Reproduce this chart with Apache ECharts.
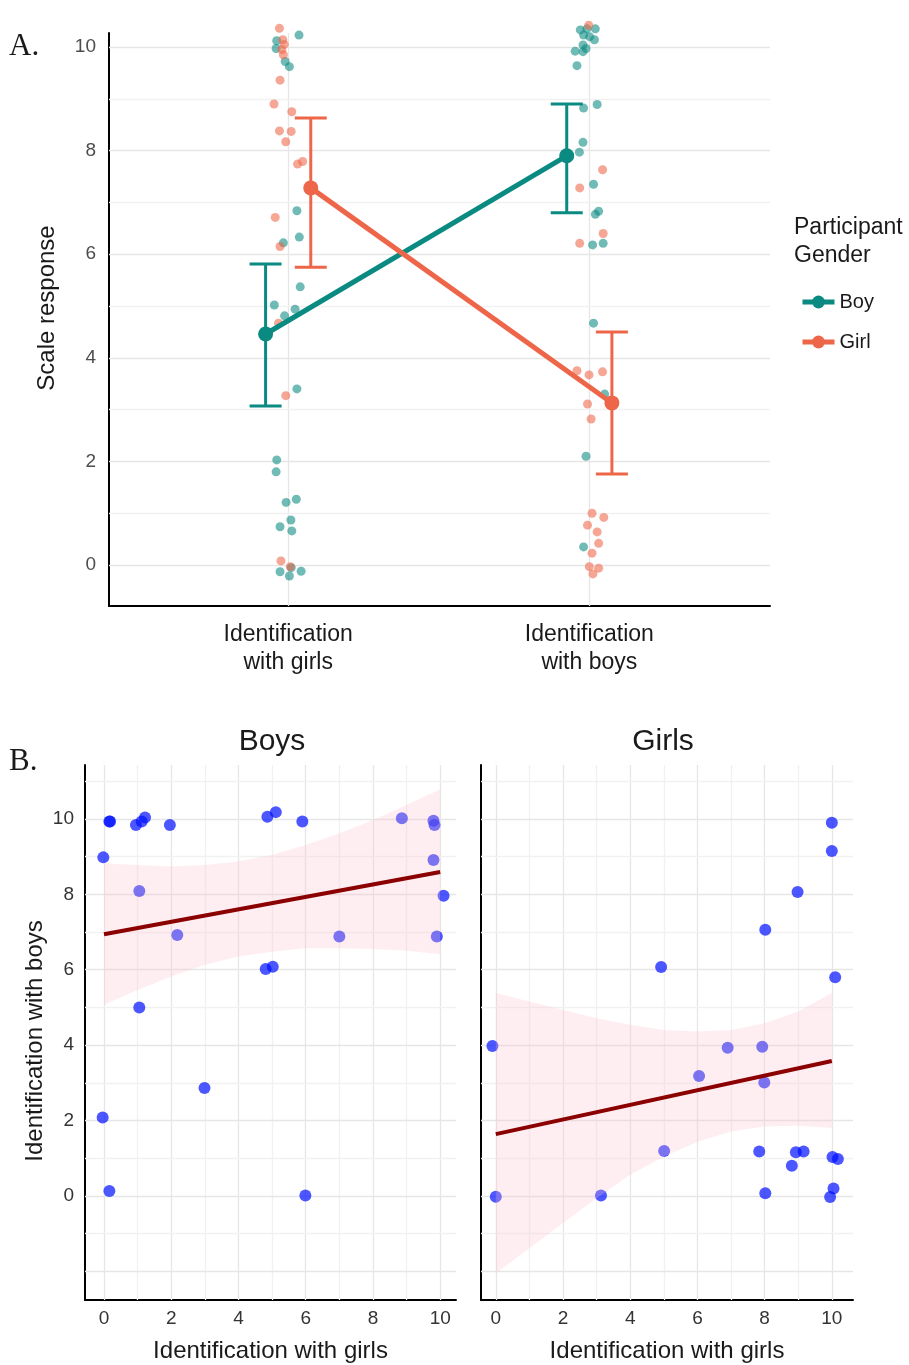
<!DOCTYPE html>
<html><head><meta charset="utf-8">
<script src="https://cdn.jsdelivr.net/npm/echarts@6/dist/echarts.min.js"></script>
<style>html,body{margin:0;padding:0;background:#fff}#c{width:909px;height:1365px}</style>
</head><body><div id="c"></div>
<script>
// ---------- Panel A data ----------
const categories = ['Identification\nwith girls', 'Identification\nwith boys'];
const yTicksA = [0, 2, 4, 6, 8, 10];
const genders = ['Boy', 'Girl'];
const boyMeans = [4.46, 7.90];
const boyLow = [3.07, 6.80];
const boyHigh = [5.81, 8.90];
const girlMeans = [7.28, 3.13];
const girlLow = [5.75, 1.76];
const girlHigh = [8.63, 4.50];
// jittered raw responses (x = category position incl. jitter, y = response)
const boyPtsX = [1.036,0.962,0.960,0.990,1.004,1.029,1.037,0.984,1.040,0.954,0.988,1.023,1.029,0.962,0.960,0.993,1.027,0.973,1.009,1.012,1.010,0.973,1.004,1.043,
  1.970,1.992,2.020,1.981,2.001,2.017,1.979,1.989,1.953,1.979,1.959,2.026,1.981,1.979,1.967,2.014,2.031,2.020,2.011,2.046,2.014,2.051,1.989,1.981];
const boyPtsY = [10.23,10.12,9.97,9.72,9.62,6.84,6.33,6.22,5.37,5.02,4.81,4.94,3.40,2.03,1.80,1.21,1.27,0.74,0.87,0.66,-0.05,-0.13,-0.21,-0.12,
  10.33,10.35,10.35,10.23,10.20,10.14,10.04,9.97,9.92,9.91,9.64,8.89,8.82,8.16,7.97,7.35,6.83,6.77,6.18,6.21,4.67,3.30,2.10,0.35];
const girlPtsX = [0.971,0.982,0.979,0.984,0.973,0.953,1.012,0.971,1.010,0.992,1.031,1.048,0.957,0.973,0.968,0.992,0.976,1.007,0.987,
  1.998,2.044,1.968,2.046,1.968,1.959,1.999,2.044,1.994,2.006,2.009,2.048,1.994,2.026,2.031,2.009,2.000,2.031,2.012];
const girlPtsY = [10.36,10.14,9.95,9.85,9.36,8.90,8.75,8.38,8.37,8.17,7.74,7.79,6.71,6.15,4.67,3.27,0.08,-0.03,10.05,
  10.42,7.63,7.28,6.40,6.21,3.75,3.67,3.73,3.11,2.82,1.00,0.92,0.77,0.64,0.42,0.23,-0.03,-0.06,-0.17];

// ---------- Panel B data ----------
const xTicksB = [0, 2, 4, 6, 8, 10];
const yTicksB = [0, 2, 4, 6, 8, 10];
const boysX = [0.18,0.16,0.95,1.12,1.22,1.96,4.86,5.11,5.90,8.86,9.80,9.83,-0.02,9.80,1.05,10.10,2.18,7.00,9.90,4.81,5.02,1.05,2.99,-0.04,0.16,5.99];
const boysY = [9.93,9.93,9.84,9.93,10.04,9.84,10.06,10.18,9.93,10.02,9.95,9.84,8.98,8.91,8.09,7.96,6.92,6.88,6.88,6.02,6.08,5.00,2.86,2.08,0.13,0.01];
const girlsX = [10.0,10.0,8.98,8.02,4.92,10.10,-0.10,6.90,7.93,6.05,7.99,5.01,7.84,8.93,9.16,8.81,10.02,10.18,10.05,9.95,8.02,0.0,3.13];
const girlsY = [9.90,9.15,8.06,7.06,6.07,5.80,3.98,3.93,3.96,3.18,3.01,1.19,1.18,1.16,1.18,0.80,1.03,0.98,0.20,-0.03,0.07,-0.02,0.01];
const ribbonX = [0,1,2,3,4,5,6,7,8,9,10];
const boysUpper = [8.82,8.78,8.74,8.78,8.87,9.05,9.31,9.62,9.97,10.37,10.79];
const boysLower = [5.07,5.46,5.82,6.13,6.35,6.48,6.57,6.57,6.55,6.50,6.41];
const girlsUpper = [5.38,5.16,4.93,4.71,4.54,4.40,4.36,4.40,4.58,4.89,5.38];
const girlsLower = [-2.05,-1.39,-0.72,-0.06,0.56,1.04,1.44,1.71,1.84,1.86,1.80];
const fitX = [0, 10];
const boysFit = [6.94, 8.59];
const girlsFit = [1.64, 3.58];

// ---------- styling ----------
const BOY = '#0B8A82', GIRL = '#EE6649';
const FONT = '"Liberation Sans", Arial, Helvetica, sans-serif';
const MAJOR = '#e6e6e6', MINOR = '#f1f1f1';

function gridSeries(xi, yi, xs, ys, isMajorX, isMajorY, anchor) {
  const data = [];
  xs.forEach(v => data.push({xAxis: v, lineStyle: {color: isMajorX(v) ? MAJOR : MINOR, width: 1.3, type: 'solid'}}));
  ys.forEach(v => data.push({yAxis: v, lineStyle: {color: isMajorY(v) ? MAJOR : MINOR, width: 1.3, type: 'solid'}}));
  return {type: 'line', xAxisIndex: xi, yAxisIndex: yi, data: [anchor], symbol: 'none',
    lineStyle: {opacity: 0}, silent: true, z: 1, animation: false,
    markLine: {silent: true, z: 1, symbol: ['none', 'none'], label: {show: false}, animation: false, data}};
}
const even = v => Math.abs(v % 2) < 1e-9;

function errorBars(name, xs, lo, hi, color) {
  return {type: 'custom', name: name + ' error', xAxisIndex: 0, yAxisIndex: 0, z: 4, silent: true,
    data: xs.map((x, i) => [x, lo[i], hi[i]]),
    renderItem: function (params, api) {
      const a = api.coord([api.value(0), api.value(1)]);
      const b = api.coord([api.value(0), api.value(2)]);
      const w = 16, st = {stroke: color, lineWidth: 3};
      return {type: 'group', children: [
        {type: 'line', shape: {x1: a[0], y1: a[1], x2: b[0], y2: b[1]}, style: st},
        {type: 'line', shape: {x1: a[0] - w, y1: a[1], x2: a[0] + w, y2: a[1]}, style: st},
        {type: 'line', shape: {x1: b[0] - w, y1: b[1], x2: b[0] + w, y2: b[1]}, style: st}
      ]};
    }};
}

function ribbon(xi, yi, up, low) {
  return {type: 'custom', xAxisIndex: xi, yAxisIndex: yi, z: 5, silent: true, data: [[ribbonX[0], low[0]]],
    renderItem: function (params, api) {
      const pts = [];
      ribbonX.forEach((x, i) => pts.push(api.coord([x, up[i]])));
      for (let i = ribbonX.length - 1; i >= 0; i--) pts.push(api.coord([ribbonX[i], low[i]]));
      return {type: 'polygon', shape: {points: pts, smooth: 0}, style: {fill: 'rgba(255,192,203,0.27)', stroke: 'none'}};
    }};
}

const dodge = 0.075;
const chart = echarts.init(document.getElementById('c'), null, {renderer: 'canvas'});

const axisLine = {show: true, onZero: false, lineStyle: {color: '#000', width: 2}};
const option = {
  animation: false,
  backgroundColor: '#fff',
  textStyle: {fontFamily: FONT},
  grid: [
    {left: 109, top: 33, width: 661, height: 573},
    {left: 85, top: 765, width: 371, height: 535},
    {left: 481, top: 765, width: 372, height: 535}
  ],
  xAxis: [
    {type: 'value', gridIndex: 0, min: 0.405, max: 2.6, axisLine, axisTick: {show: false}, splitLine: {show: false},
      axisLabel: {customValues: [1, 2], formatter: v => categories[Math.round(v) - 1], fontSize: 23, lineHeight: 28, color: '#1a1a1a', margin: 15, fontFamily: FONT}},
    {type: 'value', gridIndex: 1, min: -0.565, max: 10.47, axisLine, axisTick: {show: false}, splitLine: {show: false},
      axisLabel: {customValues: xTicksB, fontSize: 19, color: '#333', margin: 9, fontFamily: FONT},
      name: 'Identification with girls', nameLocation: 'middle', nameGap: 39, nameTextStyle: {fontSize: 24, color: '#1a1a1a', fontFamily: FONT}},
    {type: 'value', gridIndex: 2, min: -0.44, max: 10.63, axisLine, axisTick: {show: false}, splitLine: {show: false},
      axisLabel: {customValues: xTicksB, fontSize: 19, color: '#333', margin: 9, fontFamily: FONT},
      name: 'Identification with girls', nameLocation: 'middle', nameGap: 39, nameTextStyle: {fontSize: 24, color: '#1a1a1a', fontFamily: FONT}}
  ],
  yAxis: [
    {type: 'value', gridIndex: 0, min: -0.79, max: 10.27, axisLine, axisTick: {show: false}, splitLine: {show: false},
      axisLabel: {customValues: yTicksA, fontSize: 19, color: '#4d4d4d', margin: 13, fontFamily: FONT}},
    {type: 'value', gridIndex: 1, min: -2.76, max: 11.43, axisLine, axisTick: {show: false}, splitLine: {show: false},
      axisLabel: {customValues: yTicksB, fontSize: 19, color: '#333', margin: 11, fontFamily: FONT}},
    {type: 'value', gridIndex: 2, min: -2.76, max: 11.43, axisLine, axisTick: {show: false}, splitLine: {show: false},
      axisLabel: {show: false}}
  ],
  legend: {
    data: genders, orient: 'vertical', left: 795, top: 287, itemWidth: 32, itemHeight: 16, itemGap: 20,
    lineStyle: {width: 5}, textStyle: {fontSize: 20, color: '#1a1a1a', fontFamily: FONT}, selectedMode: false
  },
  graphic: [
    {type: 'text', x: 794, y: 228, style: {text: 'Participant', font: '23px "Liberation Sans", Arial', fill: '#1a1a1a', align: 'left', verticalAlign: 'middle'}},
    {type: 'text', x: 794, y: 256, style: {text: 'Gender', font: '23px "Liberation Sans", Arial', fill: '#1a1a1a', align: 'left', verticalAlign: 'middle'}},
    {type: 'text', x: 47, y: 308, rotation: Math.PI / 2, style: {text: 'Scale response', font: '24px "Liberation Sans", Arial', fill: '#1a1a1a', align: 'center', verticalAlign: 'middle'}},
    {type: 'text', x: 35, y: 1041, rotation: Math.PI / 2, style: {text: 'Identification with boys', font: '24px "Liberation Sans", Arial', fill: '#1a1a1a', align: 'center', verticalAlign: 'middle'}},
    {type: 'text', x: 9, y: 47, style: {text: 'A.', font: '31px "Liberation Serif", serif', fill: '#1a1a1a', align: 'left', verticalAlign: 'middle'}},
    {type: 'text', x: 9, y: 762, style: {text: 'B.', font: '31px "Liberation Serif", serif', fill: '#1a1a1a', align: 'left', verticalAlign: 'middle'}},
    {type: 'text', x: 272, y: 742, style: {text: 'Boys', font: '30px "Liberation Sans", Arial', fill: '#1a1a1a', align: 'center', verticalAlign: 'middle'}},
    {type: 'text', x: 663, y: 742, style: {text: 'Girls', font: '30px "Liberation Sans", Arial', fill: '#1a1a1a', align: 'center', verticalAlign: 'middle'}}
  ],
  series: [
    gridSeries(0, 0, [1, 2], [0,1,2,3,4,5,6,7,8,9,10], () => true, even, [1, 0]),
    gridSeries(1, 1, [0,1,2,3,4,5,6,7,8,9,10], [-2,-1,0,1,2,3,4,5,6,7,8,9,10,11], even, even, [0, 0]),
    gridSeries(2, 2, [0,1,2,3,4,5,6,7,8,9,10], [-2,-1,0,1,2,3,4,5,6,7,8,9,10,11], even, even, [0, 0]),
    {type: 'scatter', name: 'Boy points', xAxisIndex: 0, yAxisIndex: 0, z: 2, clip: false, symbolSize: 9,
      itemStyle: {color: BOY, opacity: 0.58}, data: boyPtsX.map((x, i) => [x, boyPtsY[i]])},
    {type: 'scatter', name: 'Girl points', xAxisIndex: 0, yAxisIndex: 0, z: 2, clip: false, symbolSize: 9,
      itemStyle: {color: GIRL, opacity: 0.58}, data: girlPtsX.map((x, i) => [x, girlPtsY[i]])},
    errorBars('Boy', [1 - dodge, 2 - dodge], boyLow, boyHigh, BOY),
    errorBars('Girl', [1 + dodge, 2 + dodge], girlLow, girlHigh, GIRL),
    {type: 'line', name: 'Boy', xAxisIndex: 0, yAxisIndex: 0, z: 5, symbol: 'circle', symbolSize: 15,
      lineStyle: {color: BOY, width: 5}, itemStyle: {color: BOY},
      data: [[1 - dodge, boyMeans[0]], [2 - dodge, boyMeans[1]]]},
    {type: 'line', name: 'Girl', xAxisIndex: 0, yAxisIndex: 0, z: 5, symbol: 'circle', symbolSize: 15,
      lineStyle: {color: GIRL, width: 5}, itemStyle: {color: GIRL},
      data: [[1 + dodge, girlMeans[0]], [2 + dodge, girlMeans[1]]]},
    {type: 'scatter', xAxisIndex: 1, yAxisIndex: 1, z: 3, symbolSize: 12,
      itemStyle: {color: '#0010ff', opacity: 0.7}, data: boysX.map((x, i) => [x, boysY[i]])},
    {type: 'scatter', xAxisIndex: 2, yAxisIndex: 2, z: 3, symbolSize: 12,
      itemStyle: {color: '#0010ff', opacity: 0.7}, data: girlsX.map((x, i) => [x, girlsY[i]])},
    ribbon(1, 1, boysUpper, boysLower),
    ribbon(2, 2, girlsUpper, girlsLower),
    {type: 'line', xAxisIndex: 1, yAxisIndex: 1, z: 6, symbol: 'none', lineStyle: {color: '#8B0000', width: 4},
      data: fitX.map((x, i) => [x, boysFit[i]])},
    {type: 'line', xAxisIndex: 2, yAxisIndex: 2, z: 6, symbol: 'none', lineStyle: {color: '#8B0000', width: 4},
      data: fitX.map((x, i) => [x, girlsFit[i]])}
  ]
};
chart.setOption(option);
</script>
</body></html>
